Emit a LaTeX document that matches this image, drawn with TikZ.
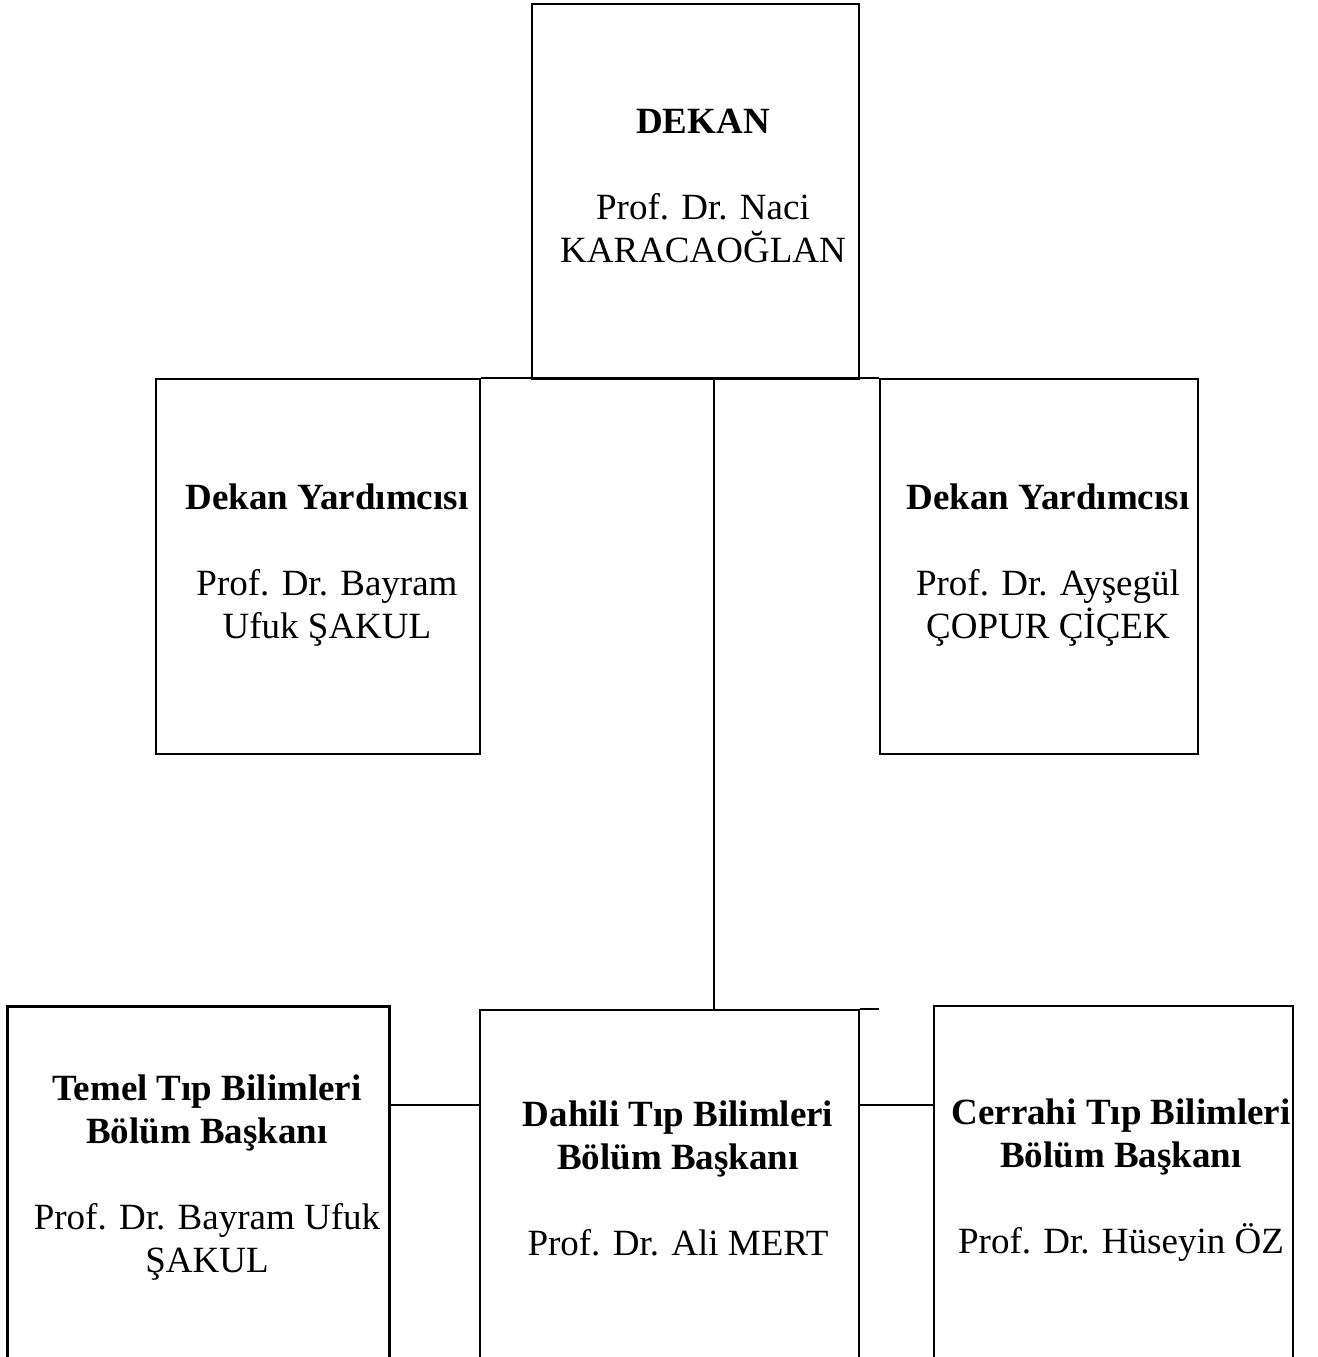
\documentclass[tikz,border=0pt]{standalone}
\usepackage{fontspec}
\setmainfont{Liberation Serif}
\begin{document}
\begin{tikzpicture}[x=1pt,y=-1pt,
  box/.style={draw,line width=2.4pt,rectangle,anchor=north west,inner sep=0pt},
  conn/.style={line width=2.2pt},
  txt/.style={align=center,inner sep=0pt,font=\fontsize{37}{43}\selectfont}]
\useasboundingbox (0,0) rectangle (1317,1357);
\clip (0,0) rectangle (1317,1357);
% top level
\node[box,minimum width=327pt,minimum height=375pt] (dekan) at (531,3) {};
\node[box,minimum width=324pt,minimum height=375pt] (dyl) at (155,378) {};
\node[box,minimum width=318pt,minimum height=375pt] (dyr) at (879,378) {};
% bottom level
\node[box,line width=3pt,minimum width=382pt,minimum height=420pt] (temel) at (6,1005) {};
\node[box,minimum width=379pt,minimum height=420pt] (dahili) at (479,1009) {};
\node[box,minimum width=359pt,minimum height=420pt] (cerrahi) at (933,1005) {};
% texts
\node[txt] (tdekan) at (703,186) {\textbf{DEKAN}\\[43pt]Prof. Dr. Naci\\KARACAOĞLAN};
\node[txt] (tdyl) at (327,565) {\textbf{Dekan Yardımcısı}\\[43pt]Prof. Dr. Bayram\\Ufuk ŞAKUL};
\node[txt] (tdyr) at (1048,565) {\textbf{Dekan Yardımcısı}\\[43pt]Prof. Dr. Ayşegül\\ÇOPUR ÇİÇEK};
\node[txt] (ttemel) at (207,1178) {\textbf{Temel Tıp Bilimleri}\\\textbf{Bölüm Başkanı}\\[43pt]Prof. Dr. Bayram Ufuk\\ŞAKUL};
\node[txt] (tdahili) at (678,1178) {\textbf{Dahili Tıp Bilimleri}\\\textbf{Bölüm Başkanı}\\[43pt]Prof. Dr. Ali MERT};
\node[txt] (tcerrahi) at (1121,1180) {\textbf{Cerrahi Tıp Bilimleri}\\\textbf{Bölüm Başkanı}\\[43pt]Prof. Dr. Hüseyin ÖZ};
% connectors
\coordinate (jtop) at (714,378);
\coordinate (jbot) at (714,1009);
\coordinate (jend) at (879,1009);
\draw[conn] (dyl.north east) -- (dyr.north west);
\draw[conn] (jtop) -- (jbot);
\draw[conn] (dahili.north east) -- (jend);
\draw[conn] ([yshift=-100pt]temel.north east) -- ([yshift=-96pt]dahili.north west);
\draw[conn] ([yshift=-96pt]dahili.north east) -- ([yshift=-100pt]cerrahi.north west);
\end{tikzpicture}
\end{document}
